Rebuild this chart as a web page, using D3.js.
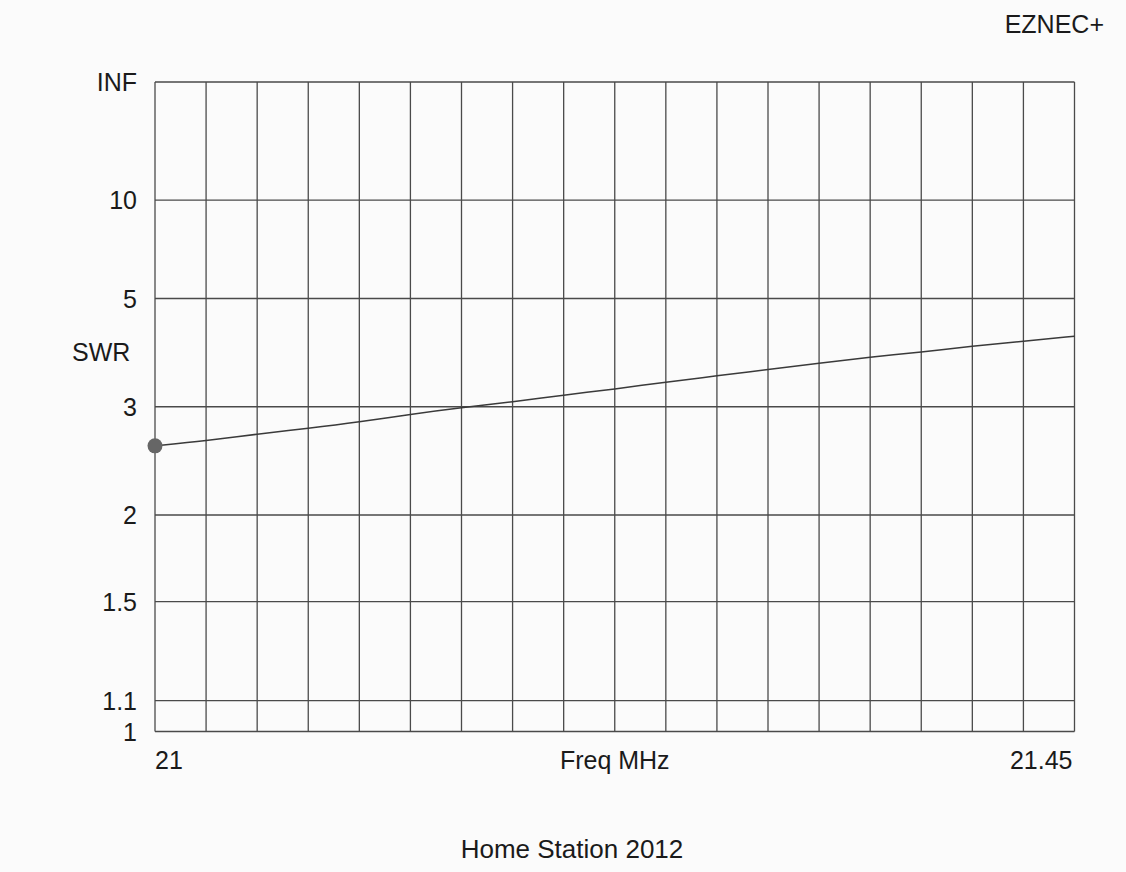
<!DOCTYPE html>
<html>
<head>
<meta charset="utf-8">
<script src="https://cdn.jsdelivr.net/npm/d3@7"></script>
<style>
  html, body { margin: 0; padding: 0; background: #fbfbfb; }
  svg { display: block; }
  text { font-family: "Liberation Sans", Arial, sans-serif; fill: #1a1a1a; }
</style>
</head>
<body>
<svg id="chart" width="1126" height="872"></svg>
<script>
// Sweep frequencies (MHz) and SWR measured at each step
const freqs = [21.000, 21.025, 21.050, 21.075, 21.100, 21.125, 21.150, 21.175, 21.200,
               21.225, 21.250, 21.275, 21.300, 21.325, 21.350, 21.375, 21.400, 21.425, 21.450];
const swr = [2.57, 2.62, 2.69, 2.75, 2.82, 2.91, 2.99, 3.06, 3.15,
             3.23, 3.33, 3.42, 3.52, 3.62, 3.72, 3.81, 3.92, 4.01, 4.11];

// SWR gridlines and their labels
const swrTicks = [1, 1.1, 1.5, 2, 3, 5, 10, Infinity];
const swrTickLabels = ["1", "1.1", "1.5", "2", "3", "5", "10", "INF"];

// Frequency axis end labels
const freqTickValues = [21, 21.45];
const freqTickLabels = ["21", "21.45"];

const titleText = "Home Station 2012";
const brandText = "EZNEC+";

const svg = d3.select("#chart");
const plot = { left: 155, right: 1074.5, top: 82, bottom: 731.5 };

// SWR is plotted on a reflection-coefficient scale: rho = (S-1)/(S+1)
const rho = s => (s === Infinity ? 1 : (s - 1) / (s + 1));
const x = d3.scaleLinear().domain([freqs[0], freqs[freqs.length - 1]]).range([plot.left, plot.right]);
const yRho = d3.scaleLinear().domain([0, 1]).range([plot.bottom, plot.top]);
const y = s => yRho(rho(s));

const gridColor = "#4a4a4a";
const labelSize = 25;

// Horizontal gridlines (SWR)
svg.append("g")
  .selectAll("line")
  .data(swrTicks)
  .join("line")
  .attr("x1", plot.left).attr("x2", plot.right)
  .attr("y1", d => y(d)).attr("y2", d => y(d))
  .attr("stroke", gridColor).attr("stroke-width", 1.3);

// Vertical gridlines (frequency steps)
svg.append("g")
  .selectAll("line")
  .data(freqs)
  .join("line")
  .attr("x1", d => x(d)).attr("x2", d => x(d))
  .attr("y1", plot.top).attr("y2", plot.bottom)
  .attr("stroke", gridColor).attr("stroke-width", 1.3);

// SWR axis labels
svg.append("g")
  .selectAll("text")
  .data(swrTicks)
  .join("text")
  .attr("x", 137)
  .attr("y", d => y(d))
  .attr("dy", "0.36em")
  .attr("text-anchor", "end")
  .attr("font-size", labelSize)
  .text((d, i) => swrTickLabels[i]);

// Frequency axis labels
svg.append("g")
  .selectAll("text")
  .data(freqTickValues)
  .join("text")
  .attr("x", (d, i) => x(d) + (i === 0 ? 0 : -2))
  .attr("y", 769)
  .attr("text-anchor", (d, i) => (i === 0 ? "start" : "end"))
  .attr("font-size", labelSize)
  .text((d, i) => freqTickLabels[i]);

svg.append("text")
  .attr("x", (plot.left + plot.right) / 2)
  .attr("y", 769)
  .attr("text-anchor", "middle")
  .attr("font-size", labelSize)
  .text("Freq MHz");

svg.append("text")
  .attr("x", 72)
  .attr("y", 361)
  .attr("text-anchor", "start")
  .attr("font-size", labelSize)
  .text("SWR");

svg.append("text")
  .attr("x", 1104)
  .attr("y", 33)
  .attr("text-anchor", "end")
  .attr("font-size", labelSize)
  .text(brandText);

svg.append("text")
  .attr("x", 572)
  .attr("y", 858)
  .attr("text-anchor", "middle")
  .attr("font-size", 26)
  .text(titleText);

// SWR curve
const line = d3.line()
  .x((d, i) => x(freqs[i]))
  .y(d => y(d))
  .curve(d3.curveBasis);

svg.append("path")
  .datum(swr)
  .attr("d", line)
  .attr("fill", "none")
  .attr("stroke", "#3a3a3a")
  .attr("stroke-width", 1.5);

// Marker at the start of the sweep
svg.append("circle")
  .attr("cx", x(freqs[0]))
  .attr("cy", y(swr[0]))
  .attr("r", 7.5)
  .attr("fill", "#666666");
</script>
</body>
</html>
